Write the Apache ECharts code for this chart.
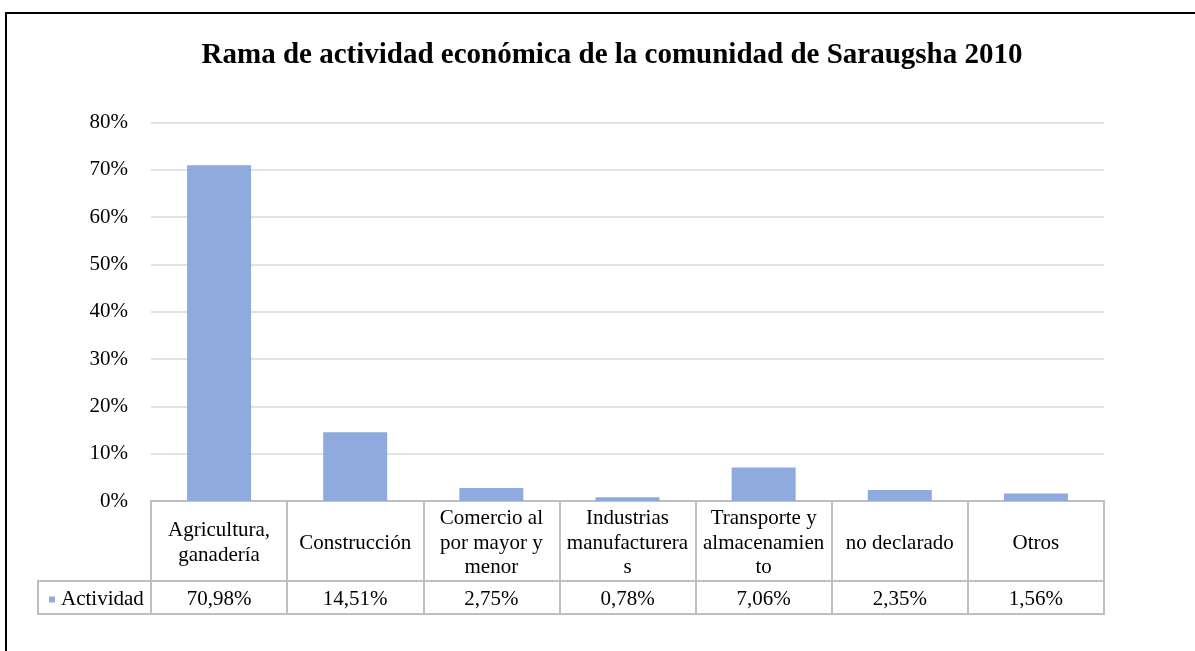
<!DOCTYPE html>
<html>
<head>
<meta charset="utf-8">
<script src="https://cdn.jsdelivr.net/npm/echarts@6/dist/echarts.min.js"></script>
<style>
  html, body { margin: 0; padding: 0; background: #fff; }
  #chart { width: 1195px; height: 651px; }
</style>
</head>
<body>
<div id="chart"></div>
<script>
// datos
var categories = ['Agricultura, ganadería', 'Construcción', 'Comercio al por mayor y menor',
    'Industrias manufactureras', 'Transporte y almacenamiento', 'no declarado', 'Otros'];
// etiquetas partidas como en la tabla de Excel
var catLabels = ['Agricultura,\nganadería', 'Construcción', 'Comercio al\npor mayor y\nmenor',
    'Industrias\nmanufacturera\ns', 'Transporte y\nalmacenamien\nto', 'no declarado', 'Otros'];
var values = [70.98, 14.51, 2.75, 0.78, 7.06, 2.35, 1.56];
var seriesName = 'Actividad';
var yTicks = [0, 10, 20, 30, 40, 50, 60, 70, 80];

var FONT = '"Liberation Serif", "Times New Roman", serif';
var GRID_L = 151, GRID_R = 1104, GRID_T = 122.5, GRID_B = 501;
var TABLE = '#bfbfbf';

function fmtPct(v) {
    return v.toFixed(2).replace('.', ',') + '%';
}

var chart = echarts.init(document.getElementById('chart'), null, {renderer: 'canvas'});
var option = {
    animation: false,
    backgroundColor: '#fff',
    title: {
        text: 'Rama de actividad económica de la comunidad de Saraugsha 2010',
        left: 607,
        top: 36,
        textAlign: 'center',
        textStyle: {
            fontFamily: FONT,
            fontWeight: 'bold',
            fontSize: 29,
            color: '#000'
        }
    },
    legend: {
        data: [seriesName],
        left: 44,
        top: 584,
        itemWidth: 6,
        itemHeight: 6,
        itemGap: 6,
        icon: 'rect',
        textStyle: {fontFamily: FONT, fontSize: 21, color: '#000', padding: [0, 0, 0, 1]}
    },
    grid: {
        left: GRID_L,
        right: 1195 - GRID_R,
        top: GRID_T,
        bottom: 651 - GRID_B,
        containLabel: false
    },
    xAxis: [
        {
            type: 'category',
            data: categories,
            boundaryGap: true,
            axisLine: {show: true, lineStyle: {color: TABLE, width: 2}},
            axisTick: {show: true, interval: 0, length: 113, lineStyle: {color: TABLE, width: 2}},
            axisLabel: {
                interval: 0,
                margin: 42,
                verticalAlign: 'middle',
                lineHeight: 24.5,
                fontFamily: FONT,
                fontSize: 21,
                color: '#000',
                formatter: function (v, i) { return catLabels[i]; }
            }
        },
        {
            type: 'category',
            data: categories,
            position: 'bottom',
            axisLine: {show: false},
            axisTick: {show: false},
            axisLabel: {
                interval: 0,
                margin: 98,
                verticalAlign: 'middle',
                fontFamily: FONT,
                fontSize: 21,
                color: '#000',
                formatter: function (v, i) { return fmtPct(values[i]); }
            }
        }
    ],
    yAxis: {
        type: 'value',
        min: yTicks[0],
        max: yTicks[yTicks.length - 1],
        interval: 10,
        axisLine: {show: false},
        axisTick: {show: false},
        axisLabel: {
            margin: 23,
            fontFamily: FONT,
            fontSize: 21,
            color: '#000',
            formatter: '{value}%'
        },
        splitLine: {lineStyle: {color: '#d9d9d9', width: 1.5}}
    },
    series: [
        {
            name: seriesName,
            type: 'bar',
            data: values,
            barWidth: '47%',
            itemStyle: {color: '#8faadc'}
        }
    ],
    graphic: [
        // fila de valores de la tabla
        {
            type: 'rect',
            shape: {x: 38, y: 581, width: GRID_R - 38, height: 33},
            style: {fill: 'none', stroke: TABLE, lineWidth: 2},
            z: 10
        },
        // borde del área del gráfico
        {
            type: 'rect',
            shape: {x: 6, y: 13, width: 1400, height: 900},
            style: {fill: 'none', stroke: '#000', lineWidth: 2},
            z: 10
        }
    ]
};
chart.setOption(option);
</script>
</body>
</html>
